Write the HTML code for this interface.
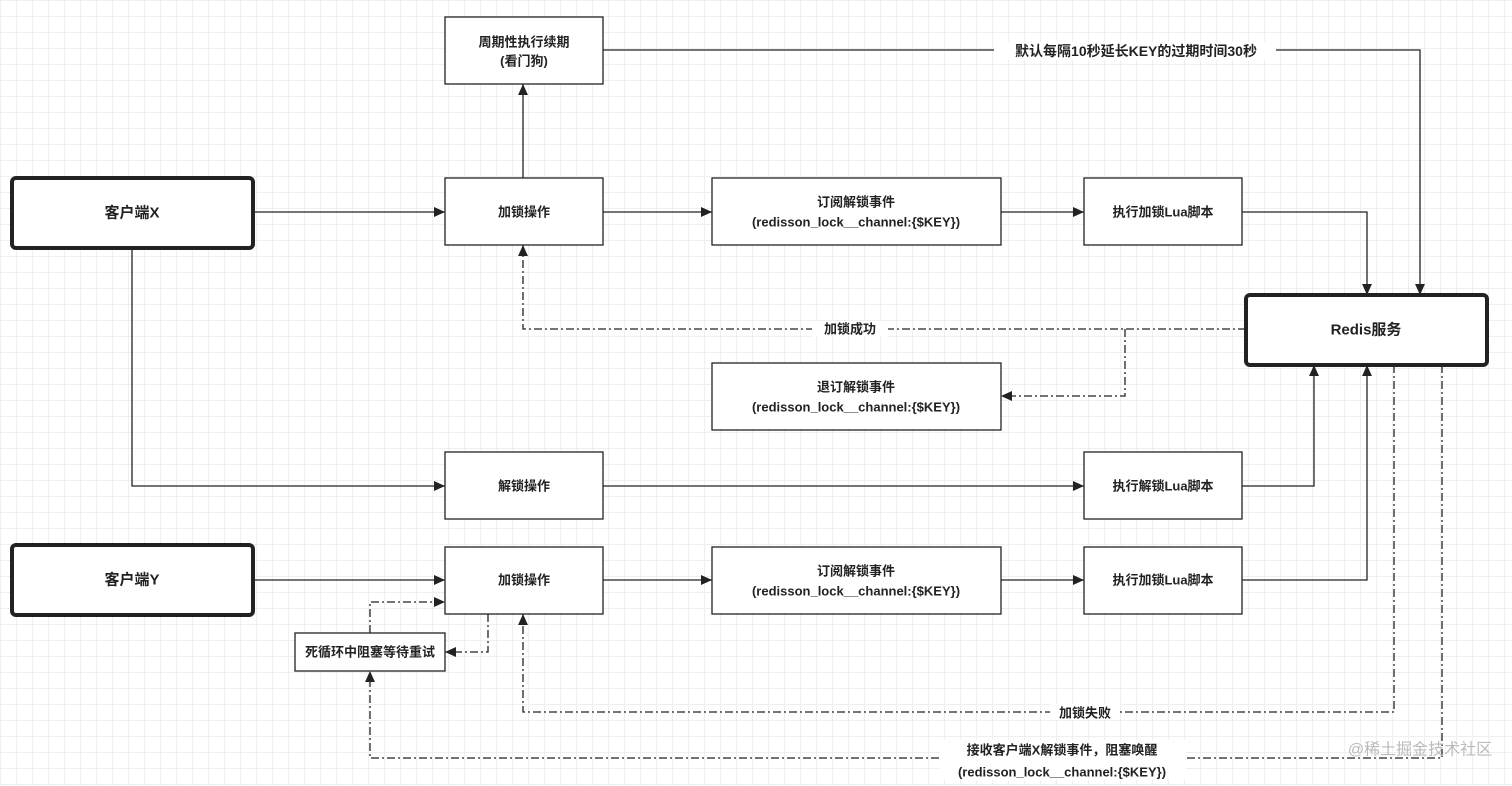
<!DOCTYPE html>
<html><head><meta charset="utf-8"><style>
html,body{margin:0;padding:0;}
body{width:1512px;height:786px;overflow:hidden;background:#fff;
background-image:linear-gradient(#efefef 1px,transparent 1px),linear-gradient(90deg,#efefef 1px,transparent 1px);
background-size:16px 16px;}
svg{position:absolute;left:0;top:0;}
text{font-family:"Liberation Sans","Noto Sans CJK SC",sans-serif;font-size:13px;font-weight:bold;fill:#222;text-anchor:middle;dominant-baseline:central;}
.b{fill:#fff;stroke:#222;stroke-width:1.3;}
.t{fill:#fff;stroke:#222;stroke-width:4;}
.l{fill:none;stroke:#222;stroke-width:1.3;}
.d{fill:none;stroke:#222;stroke-width:1.3;stroke-dasharray:8 3 2 3;}
.lb{fill:#fff;}
</style></head><body>
<svg width="1512" height="786" viewBox="0 0 1512 786">
<defs><marker id="a" viewBox="0 0 10 10" refX="10" refY="5" markerWidth="11" markerHeight="11" orient="auto" markerUnits="userSpaceOnUse"><path d="M0,0.5L10,5L0,9.5z" fill="#222"/></marker></defs>
<path class="l" d="M253,212H445" marker-end="url(#a)"/>
<path class="l" d="M603,212H712" marker-end="url(#a)"/>
<path class="l" d="M1001,212H1084" marker-end="url(#a)"/>
<path class="l" d="M1242,212H1367V295" marker-end="url(#a)"/>
<path class="l" d="M523,178V84" marker-end="url(#a)"/>
<path class="l" d="M603,50H1420V295" marker-end="url(#a)"/>
<path class="l" d="M132,248V486H445" marker-end="url(#a)"/>
<path class="l" d="M603,486H1084" marker-end="url(#a)"/>
<path class="l" d="M1242,486H1314V365" marker-end="url(#a)"/>
<path class="l" d="M253,580H445" marker-end="url(#a)"/>
<path class="l" d="M603,580H712" marker-end="url(#a)"/>
<path class="l" d="M1001,580H1084" marker-end="url(#a)"/>
<path class="l" d="M1242,580H1367V365" marker-end="url(#a)"/>
<path class="d" d="M1246,329H523V245" marker-end="url(#a)"/>
<path class="d" d="M1125,329V396H1001" marker-end="url(#a)"/>
<path class="d" d="M488,614V652H445" marker-end="url(#a)"/>
<path class="d" d="M370,633V602H445" marker-end="url(#a)"/>
<path class="d" d="M1394,365V712H523V614" marker-end="url(#a)"/>
<path class="d" d="M1442,365V758H370V671" marker-end="url(#a)"/>
<rect class="lb" x="994" y="42" width="282" height="18"/>
<text x="1136" y="51" style="font-size:14px">默认每隔10秒延长KEY的过期时间30秒</text>
<rect class="lb" x="812" y="321" width="76" height="16"/>
<text x="850" y="329">加锁成功</text>
<rect class="lb" x="1050" y="704" width="70" height="16"/>
<text x="1085" y="713">加锁失败</text>
<rect class="lb" x="940" y="740" width="246" height="40"/>
<text x="1062" y="750">接收客户端X解锁事件，阻塞唤醒</text>
<text x="1062" y="772">(redisson_lock__channel:{$KEY})</text>
<text x="1420" y="750" style="font-size:16px;font-weight:normal;fill:#bbb">@稀土掘金技术社区</text>
<rect class="t" x="12" y="178" width="241" height="70" rx="4"/><text x="132" y="213" style="font-size:15px">客户端X</text>
<rect class="t" x="12" y="545" width="241" height="70" rx="4"/><text x="132" y="580" style="font-size:15px">客户端Y</text>
<rect class="t" x="1246" y="295" width="241" height="70" rx="4"/><text x="1366" y="330" style="font-size:15px">Redis服务</text>
<rect class="b" x="445" y="17" width="158" height="67"/><text x="524" y="42">周期性执行续期</text><text x="524" y="61">(看门狗)</text>
<rect class="b" x="445" y="178" width="158" height="67"/><text x="524" y="212">加锁操作</text>
<rect class="b" x="712" y="178" width="289" height="67"/><text x="856" y="202">订阅解锁事件</text><text x="856" y="222">(redisson_lock__channel:{$KEY})</text>
<rect class="b" x="1084" y="178" width="158" height="67"/><text x="1163" y="212">执行加锁Lua脚本</text>
<rect class="b" x="712" y="363" width="289" height="67"/><text x="856" y="387">退订解锁事件</text><text x="856" y="407">(redisson_lock__channel:{$KEY})</text>
<rect class="b" x="445" y="452" width="158" height="67"/><text x="524" y="486">解锁操作</text>
<rect class="b" x="1084" y="452" width="158" height="67"/><text x="1163" y="486">执行解锁Lua脚本</text>
<rect class="b" x="445" y="547" width="158" height="67"/><text x="524" y="580">加锁操作</text>
<rect class="b" x="712" y="547" width="289" height="67"/><text x="856" y="571">订阅解锁事件</text><text x="856" y="591">(redisson_lock__channel:{$KEY})</text>
<rect class="b" x="1084" y="547" width="158" height="67"/><text x="1163" y="580">执行加锁Lua脚本</text>
<rect class="b" x="295" y="633" width="150" height="38"/><text x="370" y="652">死循环中阻塞等待重试</text>
</svg>
</body></html>
